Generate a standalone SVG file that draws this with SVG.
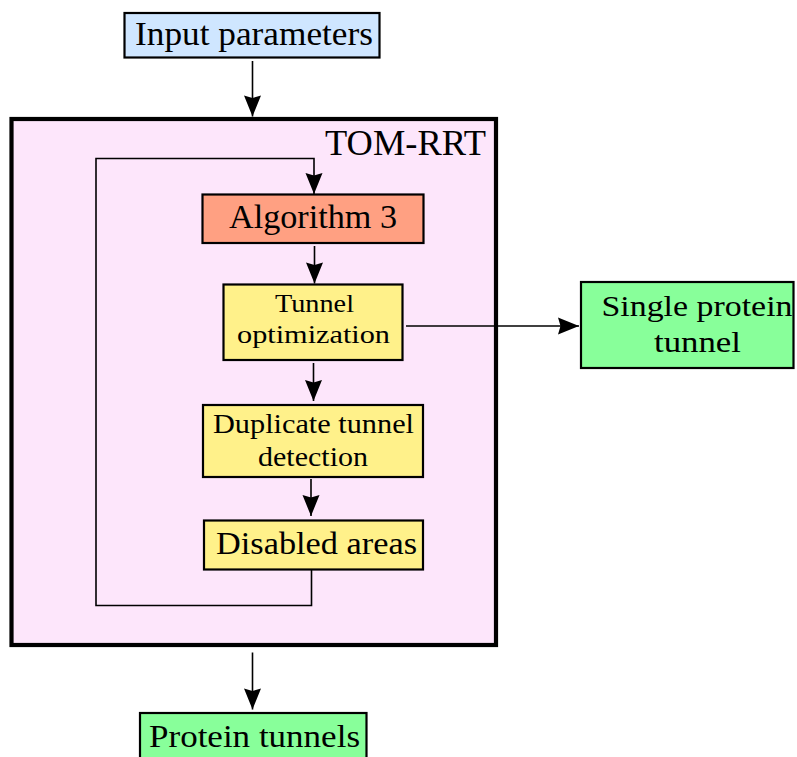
<svg xmlns="http://www.w3.org/2000/svg" width="797" height="757" viewBox="0 0 797 757">
<style>
text{font-family:"Liberation Serif","Times New Roman",serif;fill:#000;}
.box{stroke:#000;stroke-width:2.2;}
.conn{fill:none;stroke:#000;stroke-width:1.6;}
</style>
<defs>
<marker id="ah" viewBox="-22 -9 23 18" refX="0" refY="0" markerWidth="23" markerHeight="18" markerUnits="userSpaceOnUse" orient="auto">
<path d="M0,0 L-21,-8.5 L-18.5,0 L-21,8.5 Z" fill="#000"/>
</marker>
</defs>
<rect width="797" height="757" fill="#fff"/>
<g id="tom-rrt">
<rect x="11.5" y="119" width="484.5" height="526" fill="#fde6fb" stroke="#000" stroke-width="4.2"/>
<text x="325" y="155" font-size="35" textLength="161" lengthAdjust="spacingAndGlyphs">TOM-RRT</text>
</g>
<g id="input">
<rect class="box" x="124.5" y="13" width="255" height="44.5" fill="#cfe6ff"/>
<text x="254" y="45" font-size="34" text-anchor="middle" textLength="238" lengthAdjust="spacingAndGlyphs">Input parameters</text>
</g>
<g id="alg3">
<rect class="box" x="202.5" y="194.5" width="221" height="48.5" fill="#ffa082"/>
<text x="313" y="227.5" font-size="33" text-anchor="middle" textLength="168" lengthAdjust="spacingAndGlyphs">Algorithm 3</text>
</g>
<g id="tunnelopt">
<rect class="box" x="223.5" y="284.5" width="179" height="75.5" fill="#fff18a" stroke-width="2.6"/>
<text x="314.5" y="312" font-size="25.5" text-anchor="middle" textLength="79" lengthAdjust="spacingAndGlyphs">Tunnel</text>
<text x="313.5" y="343" font-size="25.5" text-anchor="middle" textLength="153" lengthAdjust="spacingAndGlyphs">optimization</text>
</g>
<g id="duplicate">
<rect class="box" x="203" y="405" width="220" height="72" fill="#fff18a" stroke-width="3.3"/>
<text x="313.5" y="432.5" font-size="27" text-anchor="middle" textLength="201" lengthAdjust="spacingAndGlyphs">Duplicate tunnel</text>
<text x="313" y="466" font-size="27" text-anchor="middle" textLength="110" lengthAdjust="spacingAndGlyphs">detection</text>
</g>
<g id="disabled">
<rect class="box" x="204" y="520.5" width="219" height="49" fill="#fff18a"/>
<text x="316.5" y="554" font-size="31" text-anchor="middle" textLength="201" lengthAdjust="spacingAndGlyphs">Disabled areas</text>
</g>
<g id="single">
<rect class="box" x="581" y="282" width="212.5" height="86" fill="#88ff9a"/>
<text x="697" y="316" font-size="30" text-anchor="middle" textLength="191" lengthAdjust="spacingAndGlyphs">Single protein</text>
<text x="697.5" y="352" font-size="30" text-anchor="middle" textLength="87" lengthAdjust="spacingAndGlyphs">tunnel</text>
</g>
<g id="protein">
<rect class="box" x="140" y="713" width="226.5" height="50" fill="#88ff9a"/>
<text x="254.5" y="746.5" font-size="32" text-anchor="middle" textLength="211" lengthAdjust="spacingAndGlyphs">Protein tunnels</text>
</g>
<g id="connectors">
<path class="conn" d="M252.5,61 V116.5" marker-end="url(#ah)"/>
<path class="conn" d="M311.5,570 V605.5 H96 V158.5 H314 V194" marker-end="url(#ah)"/>
<path class="conn" d="M314.5,246 V283.5" marker-end="url(#ah)"/>
<path class="conn" d="M313.5,363 V401" marker-end="url(#ah)"/>
<path class="conn" d="M311,479 V516" marker-end="url(#ah)"/>
<path class="conn" d="M406,326 H579" marker-end="url(#ah)"/>
<path class="conn" d="M252.5,652.5 V709.5" marker-end="url(#ah)"/>
</g>
</svg>
